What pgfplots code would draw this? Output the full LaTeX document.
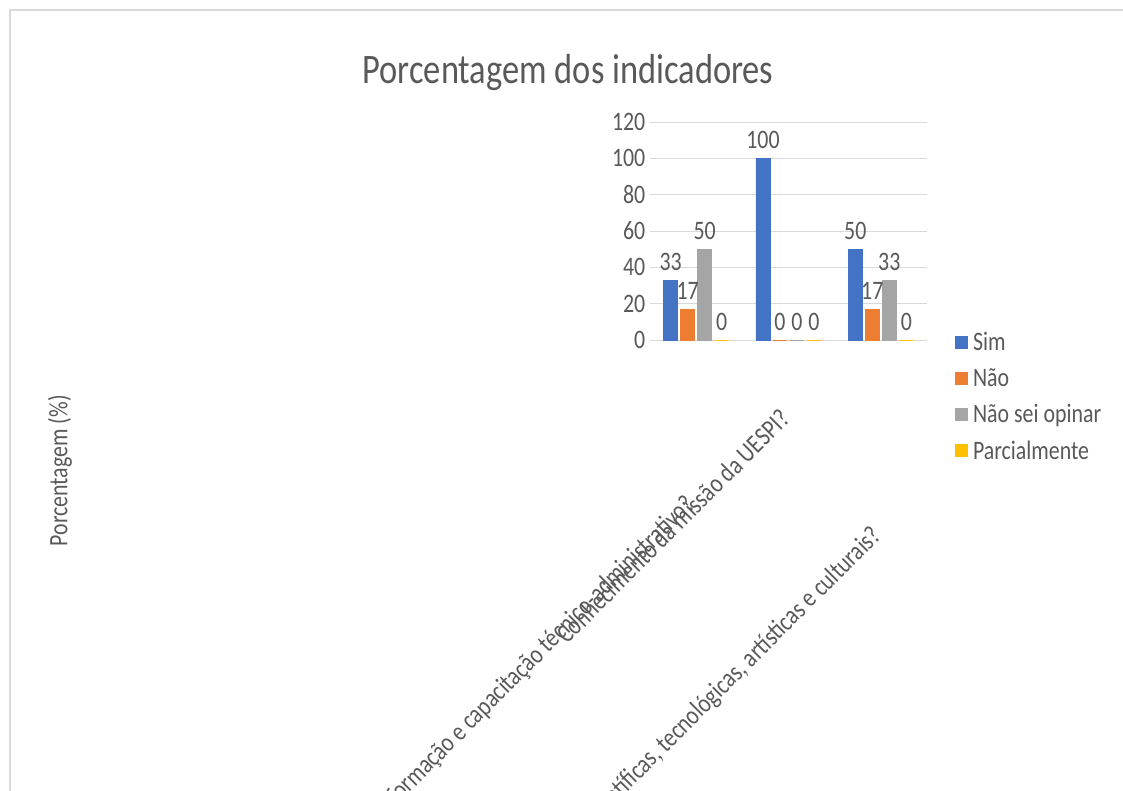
\documentclass[border=0pt]{standalone}
\usepackage{fontspec}
\setmainfont{Carlito}[FakeStretch=0.82]
\usepackage{pgfplots}
\pgfplotsset{compat=1.18}
\usetikzlibrary{calc}
\definecolor{csim}{HTML}{4472C4}
\definecolor{cnao}{HTML}{ED7D31}
\definecolor{cnsei}{HTML}{A5A5A5}
\definecolor{cparc}{HTML}{FFC000}
\definecolor{txt}{HTML}{595959}
\definecolor{gridc}{HTML}{D9D9D9}
\newcommand{\lbl}{\fontsize{20}{23}\selectfont}

\begin{document}
\begin{tikzpicture}
\begin{axis}[
    width=207.75pt, height=163.5pt, scale only axis,
    ybar=2.25pt, bar width=10.5pt,
    xmin=-0.5, xmax=2.5, ymin=0, ymax=120,
    ytick={0,20,...,120}, xtick=\empty,
    major tick length=0pt,
    axis line style={draw=none},
    ymajorgrids, grid style={draw=gridc, line width=0.75pt},
    tick label style={font=\lbl, text=txt},
    /pgf/number format/assume math mode=true,
    nodes near coords,
    nodes near coords style={font=\lbl, text=txt, inner sep=7pt},
    clip=false,
    title={Porcentagem dos indicadores},
    title style={at={(rel axis cs:-0.296,1.19)}, anchor=center,
        font=\fontsize{31.5}{36}\selectfont, text=txt},
    ylabel={Porcentagem (\%)},
    ylabel style={at={(rel axis cs:-2.13,-0.60)}, anchor=center, font=\lbl, text=txt},
    legend style={at={(rel axis cs:1.10,0.05)}, anchor=north west, draw=none,
        font=\lbl, text=txt, row sep=8pt, inner sep=0pt,
        nodes={inner xsep=4pt}},
    legend cell align=left,
    legend image code/.code={\fill[#1] (0pt,-4.5pt) rectangle (9pt,4.5pt);},
]
\addplot[fill=csim, draw=csim, line width=0.6pt] coordinates {(0,33) (1,100) (2,50)};
\addplot[fill=cnao, draw=cnao, line width=0.6pt] coordinates {(0,17) (1,0) (2,17)};
\addplot[fill=cnsei, draw=cnsei, line width=0.6pt] coordinates {(0,50) (1,0) (2,33)};
\addplot[fill=cparc, draw=cparc, line width=0.6pt] coordinates {(0,0) (1,0) (2,0)};
\legend{Sim, Não, Não sei opinar, Parcialmente}
\coordinate (O) at (rel axis cs:0,0);
\node[rotate=45, anchor=north east, inner sep=0pt, font=\lbl, text=txt]
    at (axis cs:-0.14,-84) {formação e capacitação técnico-administrativo?};
\node[rotate=45, anchor=north east, inner sep=0pt, font=\lbl, text=txt]
    at (axis cs:0.89,-37) {Conhecimento da missão da UESPI?};
\node[rotate=45, anchor=north east, inner sep=0pt, font=\lbl, text=txt]
    at (axis cs:1.88,-101) {científicas, tecnológicas, artísticas e culturais?};
\end{axis}
\draw[gray!30, line width=0.9pt] ($(O)+(-480pt,247.5pt)$) rectangle ($(O)+(420pt,-420pt)$);
\pgfresetboundingbox
\useasboundingbox ($(O)+(-487.5pt,-337.5pt)$) rectangle ($(O)+(354.75pt,255pt)$);
\end{tikzpicture}
\end{document}
